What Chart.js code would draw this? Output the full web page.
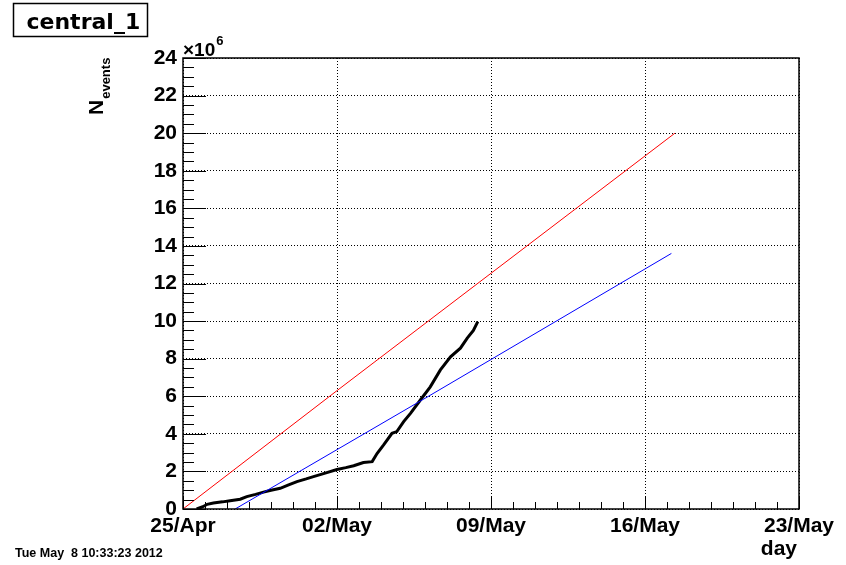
<!DOCTYPE html>
<html>
<head>
<meta charset="utf-8">
<script src="https://cdn.jsdelivr.net/npm/chart.js@4.4.1/dist/chart.umd.min.js"></script>
<style>
  html, body { margin: 0; padding: 0; background: #fff; }
  canvas { display: block; }
</style>
</head>
<body>
<canvas id="c" width="846" height="565"></canvas>
<script>
// ---- data (x = days since 25/Apr, y = N_events in units of 10^6) ----
const xTickLabels = ["25/Apr", "02/May", "09/May", "16/May", "23/May"];
const blackDays = [0.62, 0.9, 1.1, 1.38, 1.8, 2.14, 2.6, 2.9, 3.3, 3.66, 4.0, 4.42, 4.8, 5.18, 5.6, 5.93, 6.5, 7.0, 7.4, 7.76, 8.2, 8.6, 8.82, 9.12, 9.5, 9.72, 10.03, 10.34, 10.79, 11.24, 11.7, 12.16, 12.61, 12.92, 13.2, 13.4];
const blackVals = [0, 0.12, 0.25, 0.32, 0.38, 0.44, 0.52, 0.66, 0.78, 0.9, 1.0, 1.1, 1.28, 1.46, 1.6, 1.72, 1.92, 2.1, 2.2, 2.3, 2.47, 2.52, 2.95, 3.41, 4.03, 4.12, 4.65, 5.09, 5.8, 6.5, 7.4, 8.1, 8.56, 9.09, 9.5, 9.97];
const redDays = [0, 7, 22.36];
const redVals = [0, 6.3, 20];
const blueDays = [2.37, 7, 10.87, 22.2];
const blueVals = [0, 3.16, 5.8, 13.6];

const toXY = (xs, ys) => xs.map((x, i) => ({ x: x, y: ys[i] }));

const FONT = "'Liberation Sans', Arial, Helvetica, sans-serif";

const decorPlugin = {
  id: 'decor',
  afterDatasetsDraw(chart) {
    const ctx = chart.ctx;
    const a = chart.chartArea;
    const xs = chart.scales.x, ys = chart.scales.y;
    ctx.save();
    // inward ticks on left axis
    ctx.strokeStyle = '#000';
    ctx.lineWidth = 1;
    ctx.beginPath();
    for (let v = ys.min; v <= ys.max + 1e-9; v += 0.5) {
      const py = Math.round(ys.getPixelForValue(v)) + 0.5;
      const major = Math.abs(v / 2 - Math.round(v / 2)) < 1e-9;
      ctx.moveTo(a.left, py);
      ctx.lineTo(a.left + (major ? 23 : 11), py);
    }
    // inward ticks on bottom axis
    for (let d = xs.min; d <= xs.max + 1e-9; d += 1) {
      const px = Math.round(xs.getPixelForValue(d)) + 0.5;
      const major = d % 7 === 0;
      ctx.moveTo(px, a.bottom);
      ctx.lineTo(px, a.bottom - (major ? 13 : 7));
    }
    ctx.stroke();
    // frame
    ctx.lineWidth = 1.5;
    ctx.strokeRect(a.left, a.top, a.right - a.left, a.bottom - a.top);
    ctx.restore();
  },
  afterDraw(chart) {
    const ctx = chart.ctx;
    ctx.save();
    ctx.fillStyle = '#000';
    ctx.strokeStyle = '#000';
    // title box
    ctx.fillStyle = '#fff';
    ctx.fillRect(13.5, 3.5, 134, 33);
    ctx.lineWidth = 1.5;
    ctx.strokeRect(13.5, 3.5, 134, 33);
    ctx.fillStyle = '#000';
    ctx.font = "bold 22px 'DejaVu Sans', sans-serif";
    ctx.textBaseline = 'alphabetic';
    ctx.textAlign = 'left';
    ctx.fillText('central_1', 26.5, 28.5);
    // y axis title N_events (rotated)
    ctx.save();
    ctx.translate(102.5, 115);
    ctx.rotate(-Math.PI / 2);
    ctx.font = "bold 21px " + FONT;
    ctx.fillText('N', 0, 0);
    const nw = ctx.measureText('N').width;
    ctx.font = "bold 13px " + FONT;
    ctx.fillText('events', nw + 1, 7);
    ctx.restore();
    // x10^6
    ctx.font = "bold 19px " + FONT;
    ctx.fillText('\u00d710', 183, 55.5);
    const mw = ctx.measureText('\u00d710').width;
    ctx.font = "bold 13px " + FONT;
    ctx.fillText('6', 183 + mw + 1, 45);
    // axis label "day"
    ctx.font = "bold 21px " + FONT;
    ctx.textAlign = 'right';
    ctx.fillText('day', 797, 555);
    // date stamp
    ctx.textAlign = 'left';
    ctx.font = "bold 12.5px " + FONT;
    ctx.fillText('Tue May  8 10:33:23 2012', 15, 557);
    ctx.restore();
  }
};

new Chart(document.getElementById('c'), {
  type: 'line',
  data: {
    datasets: [
      { label: 'red', data: toXY(redDays, redVals), borderColor: '#ff0000', borderWidth: 1, pointRadius: 0, tension: 0 },
      { label: 'blue', data: toXY(blueDays, blueVals), borderColor: '#0000ff', borderWidth: 1, pointRadius: 0, tension: 0 },
      { label: 'central_1', data: toXY(blackDays, blackVals), borderColor: '#000000', borderWidth: 3, pointRadius: 0, tension: 0 }
    ]
  },
  options: {
    responsive: false,
    animation: false,
    events: [],
    layout: { padding: { top: 58, right: 47, left: 0, bottom: 0 } },
    plugins: { legend: { display: false }, tooltip: { enabled: false }, title: { display: false } },
    scales: {
      x: {
        type: 'linear',
        min: 0, max: 28,
        afterFit: (s) => { s.height = 56; },
        ticks: {
          stepSize: 7, autoSkip: false, maxRotation: 0, minRotation: 0,
          color: '#000', padding: 5,
          font: { family: FONT, weight: 'bold', size: 21 },
          callback: (v) => xTickLabels[Math.round(v / 7)]
        },
        grid: { color: '#000', lineWidth: 1, drawTicks: false },
        border: { display: false, dash: [1, 2] }
      },
      y: {
        type: 'linear',
        min: 0, max: 24,
        afterFit: (s) => { s.width = 183; },
        ticks: {
          stepSize: 2, autoSkip: false, color: '#000', padding: 6,
          font: { family: FONT, weight: 'bold', size: 21 }
        },
        grid: { color: '#000', lineWidth: 1, drawTicks: false },
        border: { display: false, dash: [1, 2] }
      }
    }
  },
  plugins: [decorPlugin]
});
</script>
</body>
</html>
